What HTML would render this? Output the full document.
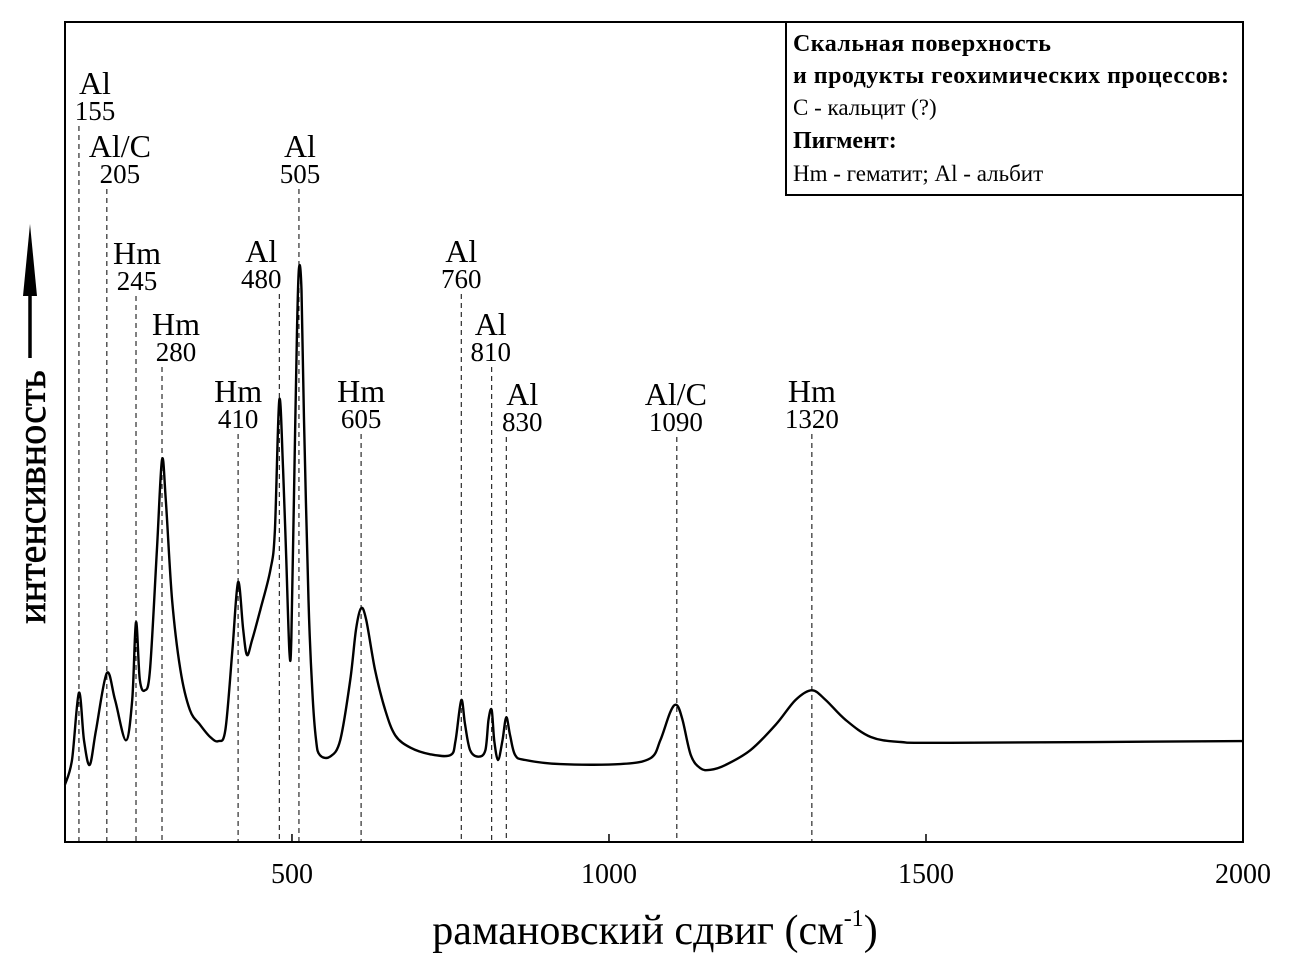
<!DOCTYPE html>
<html><head><meta charset="utf-8"><style>
body{margin:0;background:#fff;}
svg{display:block;font-family:"Liberation Serif","DejaVu Serif",serif;}
</style></head><body>
<svg width="1289" height="972" viewBox="0 0 1289 972" id="chart">
<rect x="0" y="0" width="1289" height="972" fill="#fff"/>
<g id="peaks"></g>
<path id="curve" fill="none" stroke="#000" stroke-width="2.4"/>
<rect x="65" y="22" width="1178" height="820" fill="none" stroke="#000" stroke-width="2"/>
<g id="xticks"></g>
<text x="655" y="944" font-size="42" text-anchor="middle">рамановский сдвиг (см<tspan font-size="24" dy="-18">-1</tspan><tspan dy="18">)</tspan></text>
<g>
<text transform="translate(45,497) rotate(-90)" font-size="40" text-anchor="middle" stroke="#000" stroke-width="0.6">интенсивность</text>
<line x1="30" y1="358" x2="30" y2="280" stroke="#000" stroke-width="3.5"/>
<polygon points="30,224 23,296 37,296" fill="#000"/>
</g>
<g>
<rect x="786" y="22" width="457" height="173" fill="#fff" stroke="#000" stroke-width="2"/>
<text x="793" y="51" font-size="24" font-weight="bold" textLength="258">Скальная поверхность</text>
<text x="793" y="83" font-size="24" font-weight="bold" textLength="436">и продукты геохимических процессов:</text>
<text x="793" y="115" font-size="23">C - кальцит (?)</text>
<text x="793" y="148" font-size="24" font-weight="bold">Пигмент:</text>
<text x="793" y="181" font-size="23">Hm - гематит; Al - альбит</text>
</g>
</svg>
<script>
const shiftX=[142,153,164,172,181,191,208,221,238,248,254,260,268,276,287,295,301,311,324,339,355,371,384,395,406,415,423,429,437,450,466,473,480,486,491,496,499,503,508,511,515,519,526,532,538,544,560,576,592,601,609,617,631,647,663,687,718,750,758,767,773,781,794,805,810,815,819,825,832,838,844,852,868,923,1018,1065,1081,1097,1107,1116,1129,1144,1160,1184,1223,1263,1294,1320,1342,1373,1413,1460,1539,2000];
const intensity=[7.0,10.0,18.2,12.4,9.4,13.7,20.6,17.3,12.4,17.3,26.8,19.8,18.5,21.0,35.6,46.6,41.7,29.5,21.0,16.1,14.3,12.8,12.3,13.7,23.4,31.7,25.9,22.8,24.6,28.3,33.2,38.0,53.9,45.4,34.4,23.2,24.6,41.7,62.4,70.0,67.3,51.5,29.5,18.5,12.4,10.6,10.4,12.4,19.8,25.9,28.5,27.1,21.0,16.1,13.0,11.5,10.7,10.6,12.4,17.3,14.3,11.2,10.4,11.2,14.9,16.1,12.4,10.0,12.4,15.2,13.0,10.6,10.0,9.5,9.5,10.2,12.4,15.9,16.7,14.9,10.6,9.0,8.8,9.4,11.2,14.3,17.3,18.5,17.3,14.9,12.8,12.2,12.1,12.3];
const xTicks=[500,1000,1500,2000];
const peakNames=["Al","Al/C","Hm","Hm","Hm","Al","Al","Hm","Al","Al","Al","Al/C","Hm"];
const peakLabels=["155","205","245","280","410","480","505","605","760","810","830","1090","1320"];
const peakPos=[164,208,254,295,415,480,511,609,767,815,838,1107,1320];
const X0=142,X1=2000,PX0=65,PX1=1243,PY0=842,PY1=22;
const sx=v=>PX0+(v-X0)/(X1-X0)*(PX1-PX0);
const sy=v=>PY0-v/100*(PY0-PY1);
const NS="http://www.w3.org/2000/svg";
const pts=shiftX.map((x,i)=>[sx(x),sy(intensity[i])]);
let d="M"+pts[0][0].toFixed(1)+","+pts[0][1].toFixed(1);
for(let i=0;i<pts.length-1;i++){
 const p0=pts[Math.max(0,i-1)],p1=pts[i],p2=pts[i+1],p3=pts[Math.min(pts.length-1,i+2)];
 const c1=[p1[0]+(p2[0]-p0[0])/6,p1[1]+(p2[1]-p0[1])/6];
 const c2=[p2[0]-(p3[0]-p1[0])/6,p2[1]-(p3[1]-p1[1])/6];
 d+=` C${c1[0].toFixed(1)},${c1[1].toFixed(1)} ${c2[0].toFixed(1)},${c2[1].toFixed(1)} ${p2[0].toFixed(1)},${p2[1].toFixed(1)}`;
}
document.getElementById('curve').setAttribute('d',d);
const xt=document.getElementById('xticks');
xTicks.forEach(t=>{
 const l=document.createElementNS(NS,'line');
 l.setAttribute('x1',sx(t));l.setAttribute('x2',sx(t));l.setAttribute('y1',842);l.setAttribute('y2',834);
 l.setAttribute('stroke','#000');l.setAttribute('stroke-width','1.5');
 
 
 xt.appendChild(l);
 const tx=document.createElementNS(NS,'text');
 tx.setAttribute('x',sx(t));tx.setAttribute('y',883);tx.setAttribute('font-size','28');tx.setAttribute('text-anchor','middle');
 tx.textContent=t;
 
 
 xt.appendChild(tx);
});
const nameY=[94,157,264,335,402,262,157,402,262,335,405,405,402];
const labelDx=[16,13,1,14,0,-18,1,0,0,-1,16,-1,0];
const pg=document.getElementById('peaks');
peakPos.forEach((p,i)=>{
 const x=sx(p),cx=x+labelDx[i],ny=nameY[i],vy=ny+26;
 const l=document.createElementNS(NS,'line');
 l.setAttribute('x1',x);l.setAttribute('x2',x);l.setAttribute('y1',vy+6);l.setAttribute('y2',842);
 l.setAttribute('stroke','#000');l.setAttribute('stroke-width','1');l.setAttribute('stroke-dasharray','5,4');
 
 
 pg.appendChild(l);
 const n=document.createElementNS(NS,'text');
 n.setAttribute('x',cx);n.setAttribute('y',ny);n.setAttribute('font-size','32');n.setAttribute('text-anchor','middle');
 n.textContent=peakNames[i];
 
 
 pg.appendChild(n);
 const v=document.createElementNS(NS,'text');
 v.setAttribute('x',cx);v.setAttribute('y',vy);v.setAttribute('font-size','27');v.setAttribute('text-anchor','middle');
 v.textContent=peakLabels[i];
 
 
 pg.appendChild(v);
});
</script>
</body></html>
